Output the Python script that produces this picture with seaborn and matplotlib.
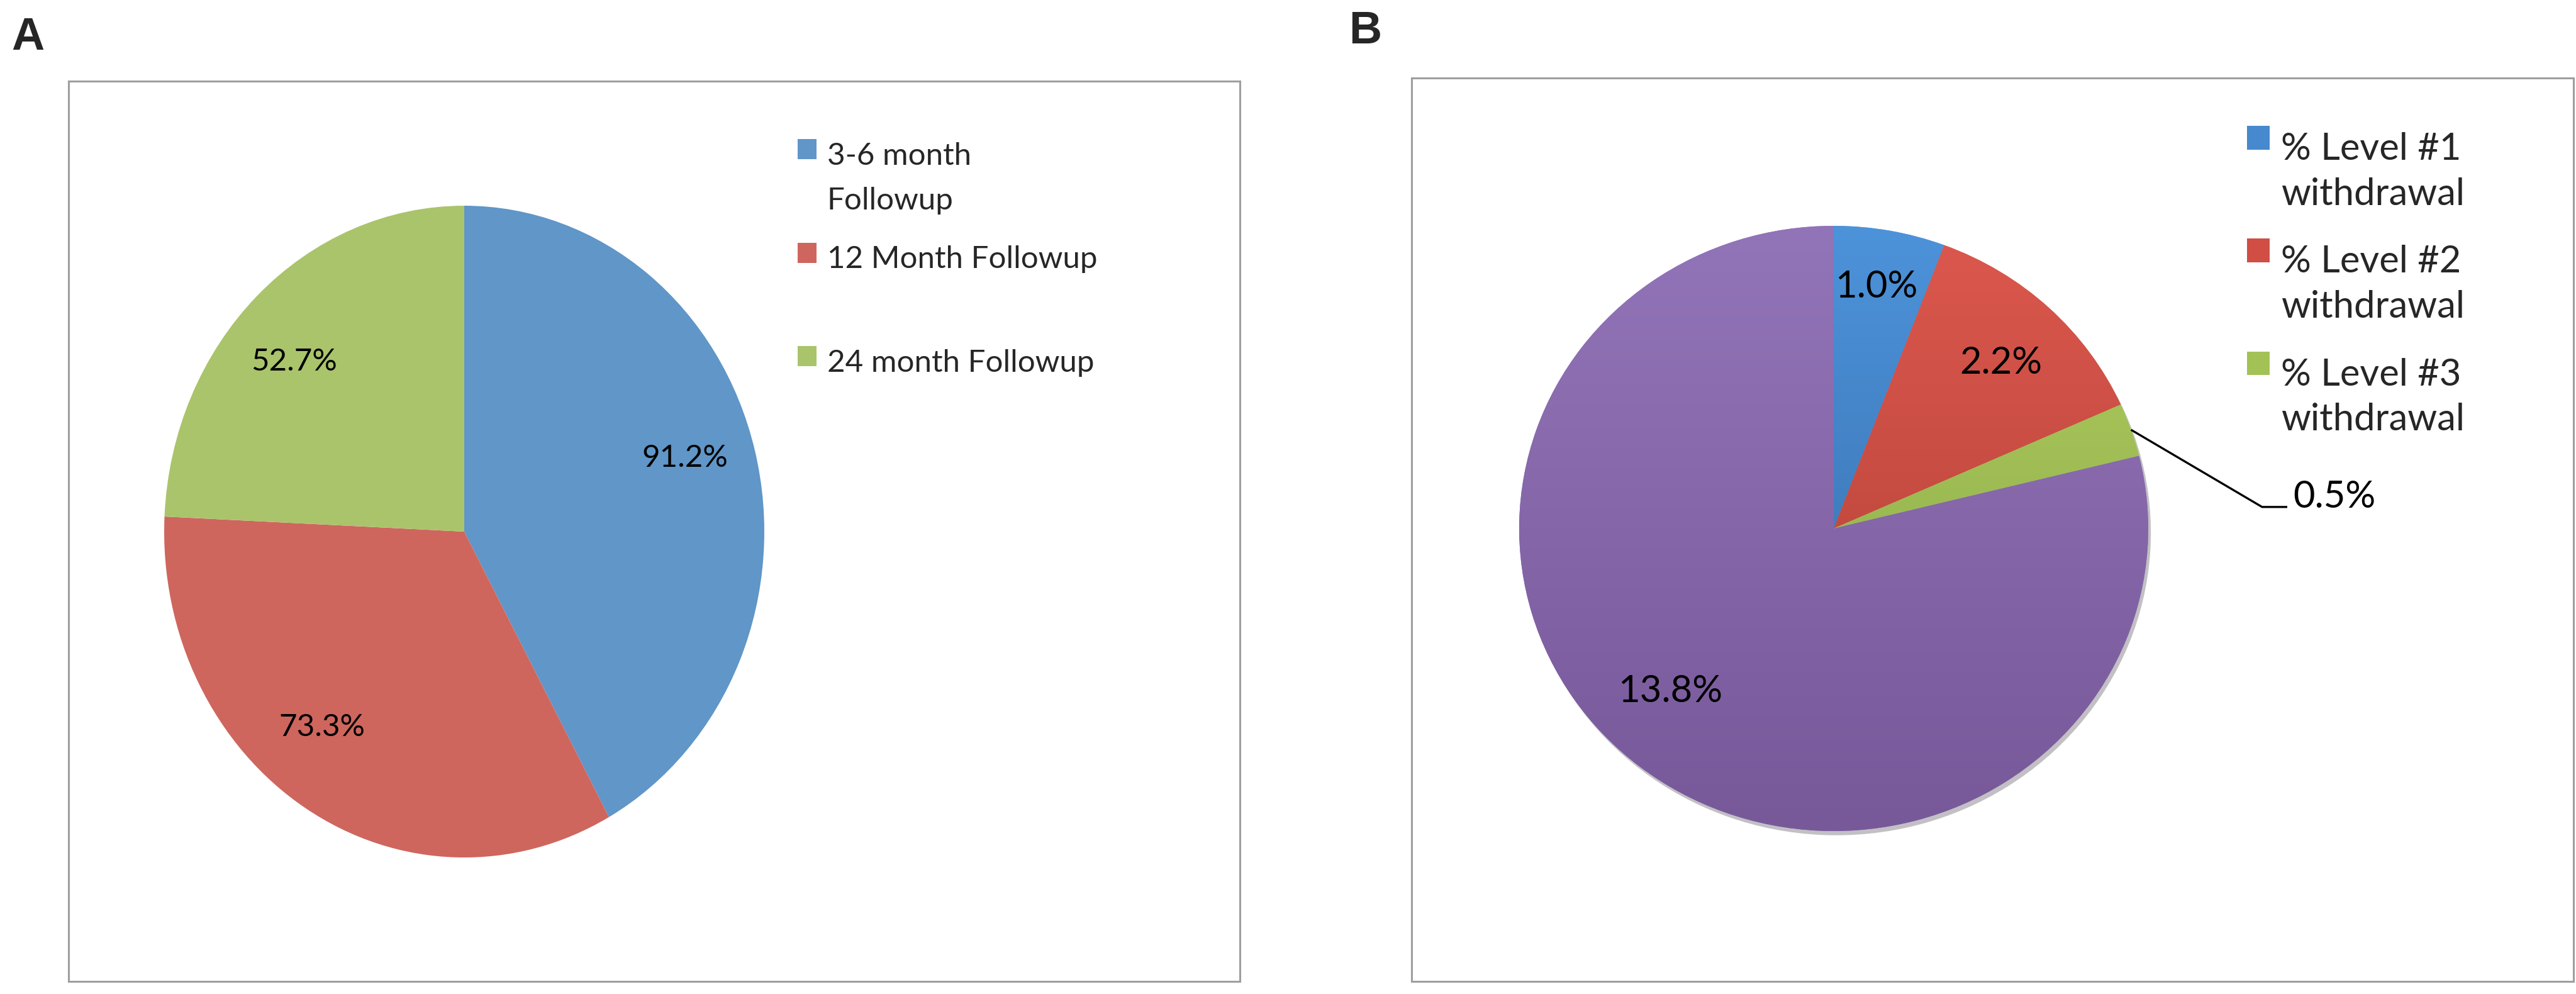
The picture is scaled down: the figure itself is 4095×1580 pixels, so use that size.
import matplotlib
matplotlib.use("Agg")
import matplotlib.pyplot as plt
import numpy as np
import seaborn as sns
from matplotlib.colors import LinearSegmentedColormap
from matplotlib.legend_handler import HandlerPatch
from matplotlib.patches import Rectangle, Wedge

# ========== DONNEES ==========
followup_labels = ["3-6 month\nFollowup", "12 Month Followup", "24 month Followup"]
followup_values = [91.2, 73.3, 52.7]
followup_text = ["91.2%", "73.3%", "52.7%"]

withdrawal_labels = ["% Level #1\nwithdrawal", "% Level #2\nwithdrawal", "% Level #3\nwithdrawal"]
withdrawal_values = [1.0, 2.2, 0.5, 13.8]
withdrawal_text = ["1.0%", "2.2%", "0.5%", "13.8%"]

# ========== STYLE ==========
colors_a = ["#6096C8", "#CE665E", "#AAC46B"]
grad_top_b = ["#4D93DA", "#DC584E", "#B0CF60", "#9274B8"]
grad_bot_b = ["#3367A3", "#AC3D33", "#86A343", "#77599A"]
legend_b_colors = ["#4689CE", "#D04E44", "#A3C256"]
frame_color = "#9E9E9E"

W, H = 4095, 1580
sns.set_theme(style="white")
plt.rcParams["font.family"] = ["Lato", "DejaVu Sans"]

fig = plt.figure(figsize=(W / 100, H / 100), dpi=100)


def panel_axes(box, center, radius):
    # box / center / radius en pixels (y vers le bas)
    x0, y0, x1, y1 = box
    cx, cy = center
    rx, ry = radius
    ax = fig.add_axes([x0 / W, 1 - y1 / H, (x1 - x0) / W, (y1 - y0) / H])
    return ax, (-(cx - x0) / rx, (x1 - cx) / rx), (-(y1 - cy) / ry, (cy - y0) / ry)


def finish_frame(ax, xlim, ylim):
    ax.set_aspect("auto")
    ax.set_xlim(*xlim)
    ax.set_ylim(*ylim)
    ax.set_frame_on(True)
    ax.set_xticks([])
    ax.set_yticks([])
    for sp in ax.spines.values():
        sp.set_visible(True)
        sp.set_color(frame_color)
        sp.set_linewidth(2.2)


def square_handler(shift):
    # carre aligne sur la premiere ligne du libelle
    def patch_func(legend, orig_handle, xdescent, ydescent, width, height, fontsize):
        return Rectangle((-xdescent, -ydescent + shift * fontsize), width, height)
    return {Wedge: HandlerPatch(patch_func=patch_func)}


# ---------- Panel A ----------
axA, xlimA, ylimA = panel_axes((109, 129, 1971, 1560), (738, 845), (477, 518))
wedges_a, _ = axA.pie(followup_values, colors=colors_a, startangle=90,
                      counterclock=False, wedgeprops=dict(linewidth=0))
finish_frame(axA, xlimA, ylimA)

label_pos_a = [(0.736, 0.226), (-0.474, -0.600), (-0.566, 0.521)]
for txt, (x, y) in zip(followup_text, label_pos_a):
    axA.text(x, y, txt, ha="center", va="center", fontsize=35.5, color="black")

# chaque entree occupe deux lignes, comme dans Excel
leg_labels_a = [l if "\n" in l else l + "\n" for l in followup_labels]
legA = axA.legend(wedges_a, leg_labels_a, loc="upper left",
                  bbox_to_anchor=(1268 / W, 1 - 226 / H), bbox_transform=fig.transFigure,
                  frameon=False, fontsize=35.5, handlelength=0.6, handleheight=0.62,
                  handletextpad=0.35, labelspacing=1.0, borderpad=0, borderaxespad=0,
                  handler_map=square_handler(0.95))
for t in legA.get_texts():
    t.set_linespacing(1.75)

# ---------- Panel B ----------
axB, xlimB, ylimB = panel_axes((2244, 124, 4091, 1560), (2915, 840), (500, 481))
wedges_b, _ = axB.pie(withdrawal_values, colors=grad_top_b, startangle=90,
                      counterclock=False, wedgeprops=dict(linewidth=0),
                      shadow=dict(ox=0.006, oy=-0.01, shade=0.75, alpha=0.28))
finish_frame(axB, xlimB, ylimB)

# degrade vertical dans chaque part
for w, c_top, c_bot in zip(wedges_b, grad_top_b, grad_bot_b):
    cmap = LinearSegmentedColormap.from_list("g", [c_bot, c_top])
    grad = np.linspace(0, 1, 256).reshape(-1, 1)
    im = axB.imshow(grad, cmap=cmap, extent=(-1, 1, -1, 1), origin="lower",
                    aspect="auto", interpolation="bilinear", zorder=w.get_zorder() + 0.1)
    im.set_clip_path(w)
finish_frame(axB, xlimB, ylimB)

label_pos_b = [(0.136, 0.798), (0.532, 0.547), None, (-0.52, -0.538)]
for txt, pos in zip(withdrawal_text, label_pos_b):
    if pos is not None:
        axB.text(pos[0], pos[1], txt, ha="center", va="center", fontsize=43,
                 color="black", zorder=5)

# ligne de rappel pour la petite part
w3 = wedges_b[2]
mid = np.deg2rad((w3.theta1 + w3.theta2) / 2)
axB.plot([np.cos(mid), 1.362, 1.442], [np.sin(mid), 0.071, 0.071],
         color="black", linewidth=2.4, zorder=5, solid_capstyle="butt")
axB.text(1.46, 0.104, withdrawal_text[2], ha="left", va="center", fontsize=43,
         color="black", zorder=5)

legB = axB.legend(wedges_b[:3], withdrawal_labels, loc="upper left",
                  bbox_to_anchor=(3572 / W, 1 - 210 / H), bbox_transform=fig.transFigure,
                  frameon=False, fontsize=43, handlelength=0.6, handleheight=0.6,
                  handletextpad=0.3, labelspacing=0.9, borderpad=0, borderaxespad=0,
                  handler_map=square_handler(0.92))
for t in legB.get_texts():
    t.set_linespacing(1.4)
for h, c in zip(legB.legend_handles, legend_b_colors):
    h.set_facecolor(c)

# lettres des panneaux
fig.text(18 / W, 1 - 79 / H, "A", fontsize=52, fontweight="bold",
         family=["Liberation Sans", "DejaVu Sans"], ha="left", va="baseline")
fig.text(2144 / W, 1 - 69 / H, "B", fontsize=52, fontweight="bold",
         family=["Liberation Sans", "DejaVu Sans"], ha="left", va="baseline")

fig.savefig("out.png", dpi=100)
